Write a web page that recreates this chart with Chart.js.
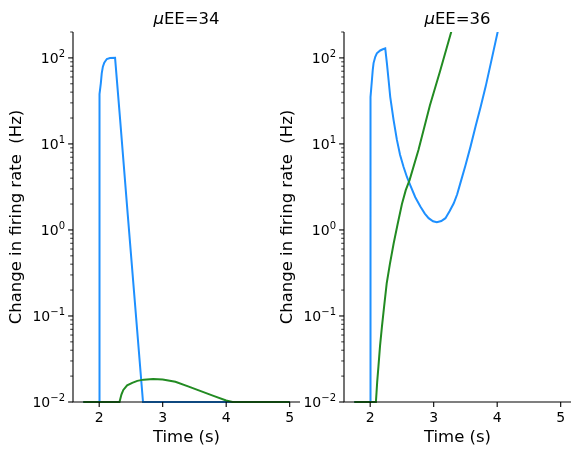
<!DOCTYPE html>
<html>
<head>
<meta charset="utf-8">
<script src="https://cdn.jsdelivr.net/npm/chart.js@4.4.1/dist/chart.umd.min.js"></script>
<style>
  html, body { margin: 0; padding: 0; background: #ffffff; }
  #wrap { position: relative; width: 579px; height: 456px; }
  #wrap canvas { position: absolute; left: 0; top: 0; }
</style>
</head>
<body>
<div id="wrap">
  <canvas id="chart-34" width="579" height="456"></canvas>
  <canvas id="chart-36" width="579" height="456"></canvas>
</div>
<script>
// dati (tempo in s, variazione in Hz)
const timeBlue34 = [1.75, 2.0, 2.0, 2.01, 2.026, 2.04, 2.058, 2.08, 2.12, 2.17, 2.25, 2.33, 2.45, 2.69, 5.0];
const rateBlue34 = [0.01, 0.01, 20, 38, 51, 66, 79, 88, 97, 99.5, 100, 19, 1.5, 0.01, 0.01];

const timeGreen34 = [1.75, 2.32, 2.35, 2.38, 2.44, 2.52, 2.6, 2.7, 2.85, 3.0, 3.2, 3.4, 3.6, 3.8, 4.0, 4.1, 5.0];
const rateGreen34 = [0.01, 0.01, 0.0122, 0.0138, 0.0156, 0.0167, 0.0176, 0.0182, 0.0185, 0.0183, 0.0172, 0.0152, 0.0134, 0.0118, 0.0104, 0.01, 0.01];

const timeBlue36 = [1.75, 2.0, 2.0, 2.01, 2.027, 2.04, 2.053, 2.08, 2.105, 2.158, 2.2, 2.237,
    2.263, 2.29, 2.316, 2.368, 2.42, 2.47, 2.526, 2.58, 2.632, 2.71, 2.79, 2.86, 2.92, 2.99, 3.05,
    3.12, 3.185, 3.25, 3.316, 3.37, 3.42, 3.5, 3.58, 3.66, 3.74, 3.82, 3.9, 4.01, 4.08];
const rateBlue36 = [0.01, 0.01, 20, 35, 55, 72, 87, 103, 113, 122, 126, 129,
    87, 55, 35, 19, 11.2, 7.5, 5.4, 4.1, 3.3, 2.4, 1.87, 1.55, 1.37, 1.26, 1.23,
    1.27, 1.37, 1.65, 2.04, 2.6, 3.5, 5.6, 9.3, 16, 27, 47, 87, 204, 330];

const timeGreen36 = [1.75, 2.09, 2.1, 2.11, 2.13, 2.155, 2.185, 2.22, 2.26, 2.31, 2.37, 2.43, 2.5, 2.56, 2.62, 2.76, 2.94, 3.1, 3.28];
const rateGreen36 = [0.01, 0.01, 0.013, 0.017, 0.026, 0.045, 0.075, 0.13, 0.24, 0.4, 0.7, 1.15, 2.0, 2.9, 3.8, 8.5, 28, 70, 205];

const xTicks = [2, 3, 4, 5];
const yTickExps = [-2, -1, 0, 1, 2];
const X_MIN = 1.5875, X_MAX = 5.1625;
const Y_MIN = 0.01, Y_MAX = 200;

const BLUE = '#1e90ff';
const GREEN = '#228b22';
const FONT = '"DejaVu Sans", sans-serif';

function toPoints(xs, ys) {
    return xs.map((x, i) => ({ x: x, y: ys[i] }));
}

// disegna assi, tacche ed etichette alla maniera di matplotlib
const axesPlugin = {
    id: 'axesDeco',
    afterDraw(chart, args, opts) {
        const ctx = chart.ctx;
        const area = chart.chartArea;
        const xs = chart.scales.x;
        const ys = chart.scales.y;
        ctx.save();
        ctx.strokeStyle = '#000';
        ctx.fillStyle = '#000';

        // spine
        ctx.lineWidth = 1.1;
        ctx.beginPath();
        ctx.moveTo(area.left, area.top);
        ctx.lineTo(area.left, area.bottom);
        ctx.lineTo(area.right, area.bottom);
        ctx.stroke();

        // tacche asse x
        ctx.font = '14px ' + FONT;
        ctx.textAlign = 'center';
        ctx.textBaseline = 'top';
        xTicks.forEach(t => {
            const px = xs.getPixelForValue(t);
            ctx.beginPath();
            ctx.moveTo(px, area.bottom);
            ctx.lineTo(px, area.bottom + 4.9);
            ctx.stroke();
            ctx.fillText(String(t), px, area.bottom + 9.5);
        });

        // tacche minori asse y
        ctx.lineWidth = 0.8;
        for (let e = -2; e <= 2; e++) {
            for (let m = 2; m <= 9; m++) {
                const v = m * Math.pow(10, e);
                if (v > Y_MAX + 1e-9) continue;
                const py = ys.getPixelForValue(v);
                ctx.beginPath();
                ctx.moveTo(area.left, py);
                ctx.lineTo(area.left - 2.8, py);
                ctx.stroke();
            }
        }

        // tacche maggiori asse y con etichette 10^n
        ctx.lineWidth = 1.1;
        yTickExps.forEach(e => {
            const py = ys.getPixelForValue(Math.pow(10, e));
            ctx.beginPath();
            ctx.moveTo(area.left, py);
            ctx.lineTo(area.left - 4.9, py);
            ctx.stroke();

            const expText = e < 0 ? '\u2212' + Math.abs(e) : String(e);
            ctx.font = '10px ' + FONT;
            const wExp = ctx.measureText(expText).width;
            ctx.font = '14px ' + FONT;
            const wBase = ctx.measureText('10').width;
            const right = area.left - 8;
            ctx.textAlign = 'left';
            ctx.textBaseline = 'alphabetic';
            ctx.fillText('10', right - wExp - wBase, py + 5);
            ctx.font = '10px ' + FONT;
            ctx.fillText(expText, right - wExp, py - 1);
        });

        // etichette degli assi
        ctx.font = '16.5px ' + FONT;
        ctx.textAlign = 'center';
        ctx.textBaseline = 'middle';
        ctx.fillText('Time (s)', (area.left + area.right) / 2, 438);

        ctx.save();
        ctx.translate(opts.yLabelX, (area.top + area.bottom) / 2);
        ctx.rotate(-Math.PI / 2);
        ctx.fillText('Change in firing rate  (Hz)', 0, 0);
        ctx.restore();

        // titolo con mu in corsivo
        ctx.textBaseline = 'alphabetic';
        ctx.textAlign = 'left';
        ctx.font = 'italic 16.5px ' + FONT;
        const wMu = ctx.measureText('\u03bc').width;
        ctx.font = '16.5px ' + FONT;
        const wRest = ctx.measureText(opts.titleRest).width;
        const cx = (area.left + area.right) / 2;
        const x0 = cx - (wMu + wRest) / 2;
        ctx.font = 'italic 16.5px ' + FONT;
        ctx.fillText('\u03bc', x0, 24);
        ctx.font = '16.5px ' + FONT;
        ctx.fillText(opts.titleRest, x0 + wMu, 24);

        ctx.restore();
    }
};

function creaPannello(id, titleRest, padLeft, padRight, yLabelX, blueX, blueY, greenX, greenY) {
    const canvas = document.getElementById(id);
    return new Chart(canvas.getContext('2d'), {
        type: 'line',
        data: {
            datasets: [
                {
                    data: toPoints(greenX, greenY),
                    borderColor: GREEN,
                    borderWidth: 2,
                    pointRadius: 0,
                    tension: 0,
                    fill: false,
                    clip: { left: 5, right: 5, top: 0, bottom: 5 }
                },
                {
                    data: toPoints(blueX, blueY),
                    borderColor: BLUE,
                    borderWidth: 2,
                    pointRadius: 0,
                    tension: 0,
                    fill: false,
                    clip: { left: 5, right: 5, top: 0, bottom: 5 }
                }
            ]
        },
        options: {
            responsive: false,
            animation: false,
            layout: { padding: { left: padLeft, right: padRight, top: 32, bottom: 54 } },
            plugins: {
                legend: { display: false },
                tooltip: { enabled: false },
                axesDeco: { titleRest: titleRest, yLabelX: yLabelX }
            },
            scales: {
                x: { type: 'linear', min: X_MIN, max: X_MAX, display: false },
                y: { type: 'logarithmic', min: Y_MIN, max: Y_MAX, display: false }
            }
        },
        plugins: [axesPlugin]
    });
}

creaPannello('chart-34', 'EE=34', 73, 279, 16.5, timeBlue34, rateBlue34, timeGreen34, rateGreen34);
creaPannello('chart-36', 'EE=36', 344, 8, 288, timeBlue36, rateBlue36, timeGreen36, rateGreen36);
</script>
</body>
</html>
